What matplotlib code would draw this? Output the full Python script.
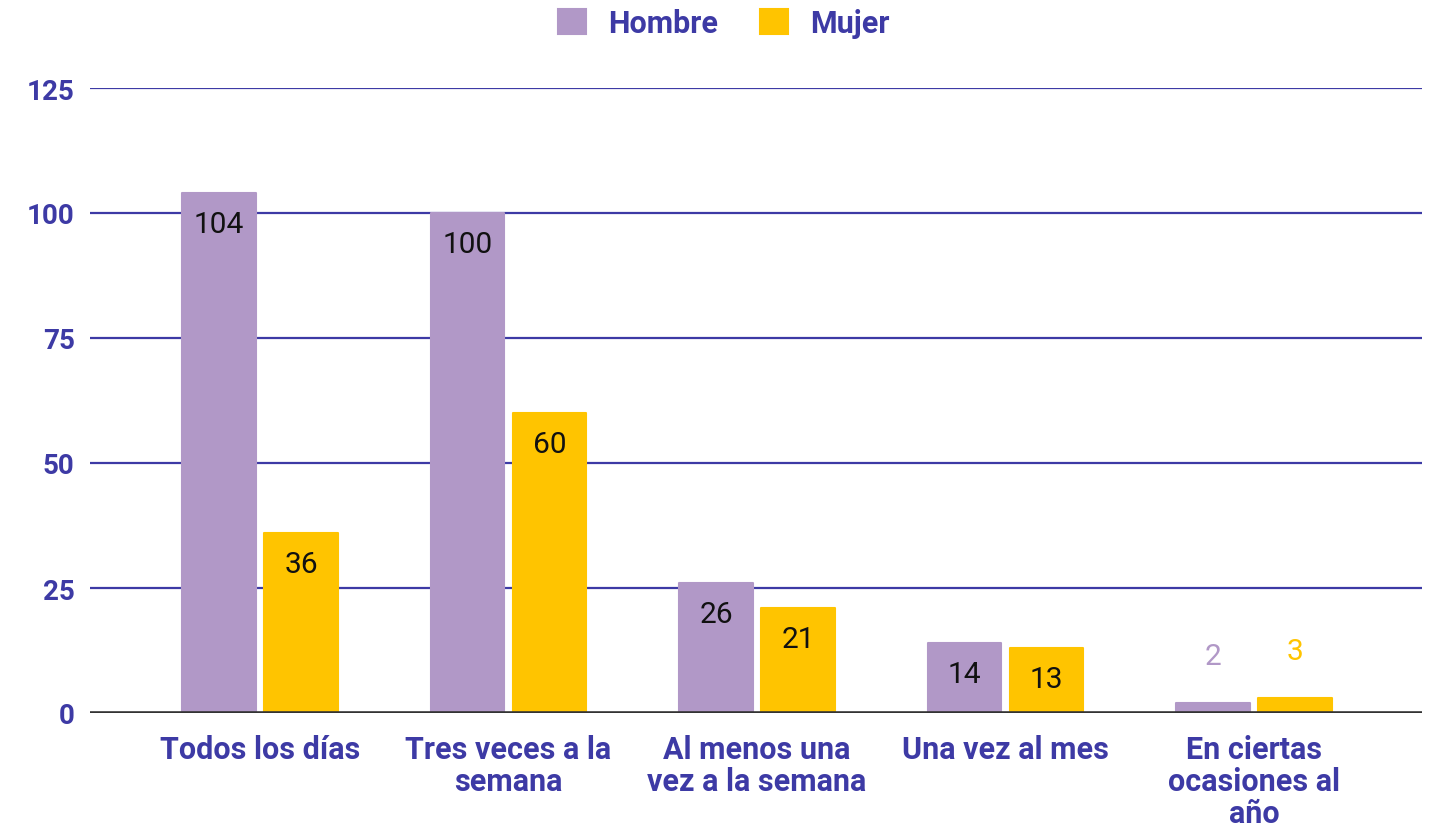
import numpy as np
import matplotlib.pyplot as plt

plt.rcParams['font.family'] = ['Roboto', 'DejaVu Sans']

categorias = ['Todos los días', 'Tres veces a la\nsemana', 'Al menos una\nvez a la semana',
              'Una vez al mes', 'En ciertas\nocasiones al\naño']
hombre = [104, 100, 26, 14, 2]
mujer = [36, 60, 21, 13, 3]
yticks = [0, 25, 50, 75, 100, 125]

morado = '#b198c7'
amarillo = '#ffc400'
azul = '#3d3aa5'

W, H = 1443, 828
fig = plt.figure(figsize=(W / 100, H / 100), dpi=100)
ax = fig.add_axes([90 / W, (H - 714) / H, (1422 - 90) / W, (714 - 89) / H])

x = np.arange(len(categorias))
ancho = 0.295
desp = 0.165

b1 = ax.bar(x - desp, hombre, ancho, color=morado, edgecolor=morado, linewidth=1.5,
            joinstyle='round', zorder=3)
b2 = ax.bar(x + desp, mujer, ancho, color=amarillo, edgecolor=amarillo, linewidth=1.5,
            joinstyle='round', zorder=3)

# etiquetas: dentro de la barra si cabe, encima si no
for barras, valores, col in [(b1, hombre, morado), (b2, mujer, amarillo)]:
    for b, v in zip(barras, valores):
        cx = b.get_x() + b.get_width() / 2
        if v >= 10:
            ax.annotate(str(v), (cx, v), xytext=(0, -31), textcoords='offset pixels',
                        ha='center', va='center', fontsize=21.5, color='#111111', zorder=4)
        else:
            ax.annotate(str(v), (cx, v), xytext=(0, 47), textcoords='offset pixels',
                        ha='center', va='center', fontsize=21.5, color=col, zorder=4)

ax.set_xlim((90 - 260) / 248.5, (1422 - 260) / 248.5)
ax.set_ylim(0, 125)
ax.set_yticks(yticks)
ax.set_yticklabels([str(t) for t in yticks], fontsize=20, fontweight='bold', color=azul)
ax.set_xticks(x)
ax.set_xticklabels(categorias, fontsize=22, fontweight='bold', color=azul, linespacing=1.08)
ax.tick_params(axis='both', length=0)
ax.tick_params(axis='y', pad=11)
ax.tick_params(axis='x', pad=15)

for t in yticks[1:]:
    ax.axhline(t, color=azul, linewidth=1.6, zorder=1)
ax.axhline(0, color='#333333', linewidth=2.6, zorder=5)

for s in ax.spines.values():
    s.set_visible(False)

leg = fig.legend([b1, b2], ['Hombre', 'Mujer'], loc='center', bbox_to_anchor=(724 / W, 1 - 24 / H),
                 ncol=2, frameon=False, prop={'size': 22, 'weight': 'bold'},
                 handlelength=0.92, handleheight=0.92, handletextpad=0.72, columnspacing=1.37)
for t in leg.get_texts():
    t.set_color(azul)

fig.savefig('out.png', dpi=100)
